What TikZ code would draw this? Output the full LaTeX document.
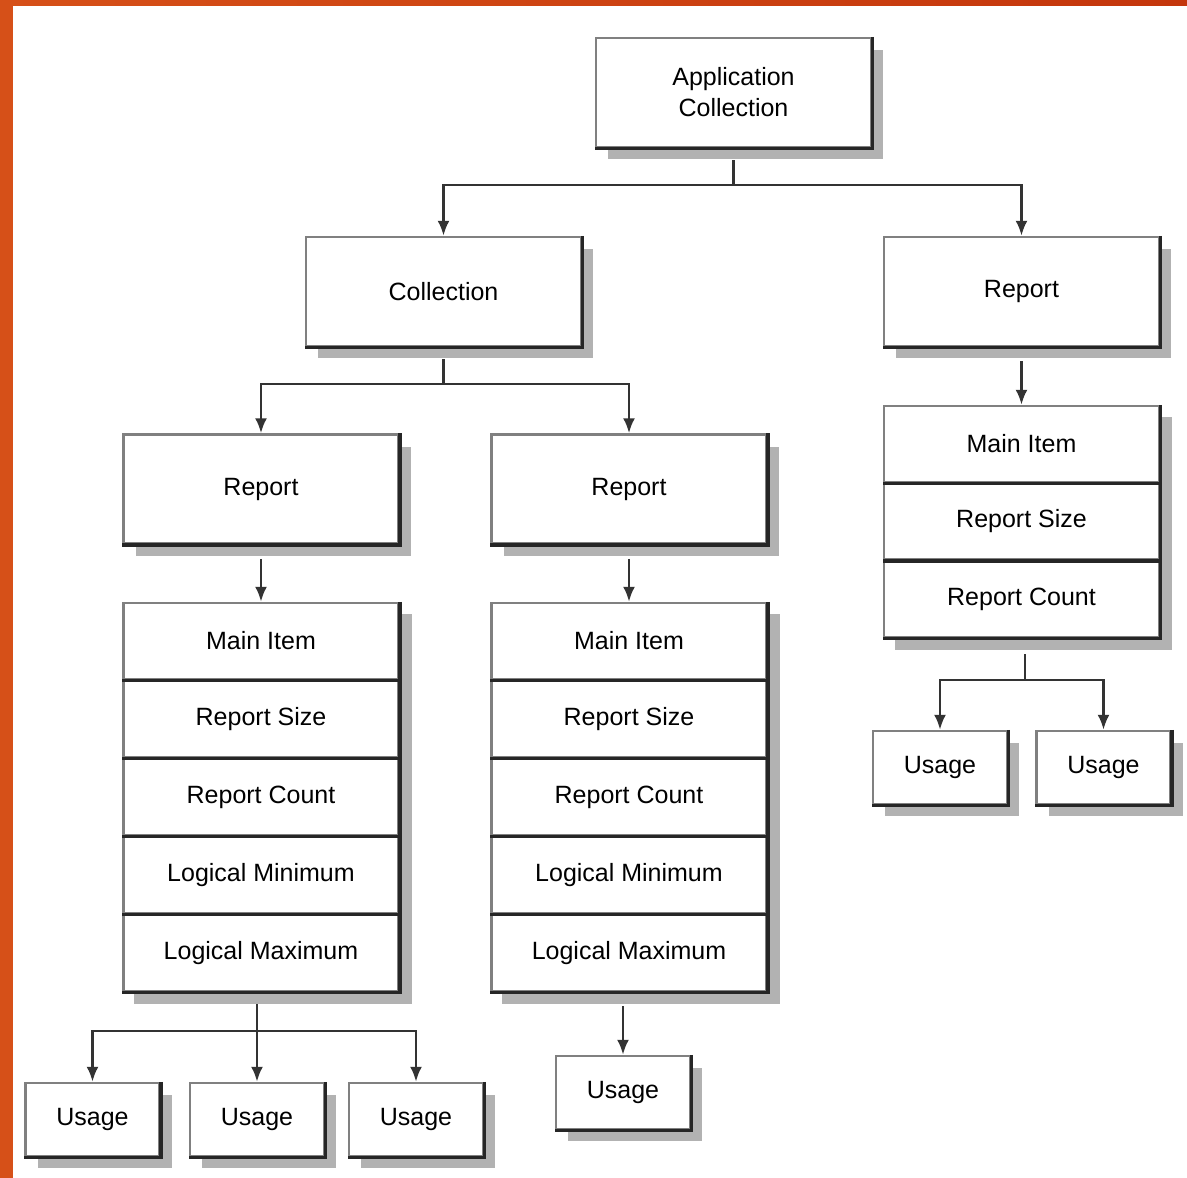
\documentclass[tikz,border=0pt]{standalone}
\usepackage{fontspec}
\setmainfont{Liberation Sans}
\usetikzlibrary{arrows.meta,shadows,backgrounds}
\definecolor{rahmen}{RGB}{214,80,24}
\definecolor{rahmenrot}{RGB}{196,54,12}

\begin{document}
\begin{tikzpicture}[x=1pt,y=-1pt,>={Latex[length=15pt,width=12pt]},
  feld/.style={draw=black!50, line width=2.5pt, fill=white, align=center,
    font=\fontsize{25}{31}\selectfont},
  kasten/.style={feld,
    drop shadow={shadow xshift=12pt,shadow yshift=-12pt,fill=black!30,opacity=1}},
  gross/.style={kasten, minimum width=275pt, minimum height=109pt},
  zeile/.style={feld, minimum width=275pt, minimum height=76pt},
  klein/.style={kasten, minimum width=134pt, minimum height=73pt},
  schatten/.style={fill=black!30},
  kante/.style={draw=black!85, line width=3.5pt},
  linie/.style={draw=black!80, line width=2.5pt}]
\useasboundingbox (0,0) rectangle (1187,1178);

%Rahmen links und oben
\fill[rahmen] (0,0) rectangle (13,1178);
\shade[left color=rahmen, right color=rahmenrot] (0,0) rectangle (1187,5);

%obere Ebene
\node[gross] (app) at (733.5,92.5) {Application\\Collection};
\node[gross] (coll) at (443.5,291.5) {Collection};
\node[gross] (repR) at (1021.5,291.5) {Report};

%Reports unter Collection
\node[gross] (repL) at (261,489) {Report};
\node[gross] (repM) at (629,489) {Report};

%Stapel links
\node[zeile] (mainL) at (261,641) {Main Item};
\node[zeile] (sizeL) at (261,719) {Report Size};
\node[zeile] (countL) at (261,797) {Report Count};
\node[zeile] (minL) at (261,875) {Logical Minimum};
\node[zeile] (maxL) at (261,953) {Logical Maximum};

%Stapel Mitte
\node[zeile] (mainM) at (629,641) {Main Item};
\node[zeile] (sizeM) at (629,719) {Report Size};
\node[zeile] (countM) at (629,797) {Report Count};
\node[zeile] (minM) at (629,875) {Logical Minimum};
\node[zeile] (maxM) at (629,953) {Logical Maximum};

%Stapel rechts
\node[zeile] (mainR) at (1021.5,444) {Main Item};
\node[zeile] (sizeR) at (1021.5,521.5) {Report Size};
\node[zeile] (countR) at (1021.5,599) {Report Count};

%Schatten der Stapel
\begin{scope}[on background layer]
\fill[schatten] ([shift={(12,12)}]mainL.north west) rectangle ([shift={(12,12)}]maxL.south east);
\fill[schatten] ([shift={(12,12)}]mainM.north west) rectangle ([shift={(12,12)}]maxM.south east);
\fill[schatten] ([shift={(12,12)}]mainR.north west) rectangle ([shift={(12,12)}]countR.south east);
\end{scope}

%Usages
\node[klein] (useL1) at (92.5,1119.5) {Usage};
\node[klein] (useL2) at (257,1119.5) {Usage};
\node[klein] (useL3) at (416,1119.5) {Usage};
\node[klein] (useM) at (623,1092.5) {Usage};
\node[klein] (useR1) at (940,767.5) {Usage};
\node[klein] (useR2) at (1103.5,767.5) {Usage};

%dunkle Kanten rechts und unten
\foreach \n in {app,coll,repR,repL,repM,mainL,sizeL,countL,minL,maxL,
  mainM,sizeM,countM,minM,maxM,mainR,sizeR,countR,useL1,useL2,useL3,useM,useR1,useR2}
  \draw[kante] (\n.north east) -- (\n.south east) -- (\n.south west);

%Verbindungen oben
\coordinate (j1) at (app.south |- 0,185);
\draw[linie] ([yshift=-12pt]app.south) -- (j1);
\draw[linie,->] (j1) -| (coll.north);
\draw[linie,->] (j1) -| (repR.north);

\coordinate (j2) at (coll.south |- 0,384);
\draw[linie] ([yshift=-12pt]coll.south) -- (j2);
\draw[linie,->] (j2) -| (repL.north);
\draw[linie,->] (j2) -| (repM.north);

%Report zu Stapel
\draw[linie,->] ([yshift=-14pt]repL.south) -- (mainL.north);
\draw[linie,->] ([yshift=-14pt]repM.south) -- (mainM.north);
\draw[linie,->] ([yshift=-14pt]repR.south) -- (mainR.north);

%Stapel zu Usages
\coordinate (j3) at (257,1031);
\draw[linie] (j3 |- maxL.south) ++(0,12) -- (j3);
\draw[linie,->] (j3) -| (useL1.north);
\draw[linie,->] (j3) -- (useL2.north);
\draw[linie,->] (j3) -| (useL3.north);

\draw[linie,->] (useM.north |- maxM.south) ++(0,14) -- (useM.north);

\coordinate (j4) at (1025,680);
\draw[linie] (j4 |- countR.south) ++(0,16) -- (j4);
\draw[linie,->] (j4) -| (useR1.north);
\draw[linie,->] (j4) -| (useR2.north);

\end{tikzpicture}
\end{document}
